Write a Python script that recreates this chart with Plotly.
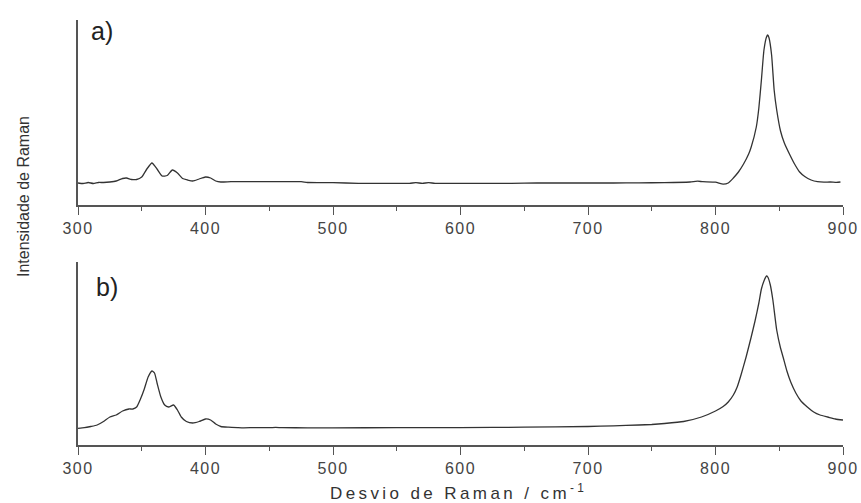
import plotly.graph_objects as go

# ---- data (arbitrary intensity units) ----
shift_a = [300, 304, 308, 312, 316, 320, 325, 330, 335, 338, 342, 346, 350, 354, 358, 362, 366, 370,
           374, 378, 382, 386, 390, 395, 400, 404, 408, 412, 420, 440, 460, 475, 480, 500, 520, 540,
           560, 565, 570, 575, 580, 600, 620, 640, 660, 680, 700, 720, 740, 760, 780, 786, 790, 800,
           806, 810, 814, 818, 822, 826, 828, 832, 834, 836, 838, 840, 841, 842, 844, 846, 848, 851,
           854, 858, 862, 866, 870, 875, 880, 885, 890, 895, 898]
int_a = [22, 21.5, 22.5, 21.5, 22.5, 22.5, 23, 24, 26.5, 27, 25.5, 25.5, 28, 36, 42, 36, 29, 29.5,
         35, 32, 26.5, 25, 24, 26, 28, 27, 24, 23, 23.3, 23.3, 23.3, 23.3, 22.5, 22.3, 21.7, 21.7,
         21.7, 22.3, 21.7, 22.3, 21.7, 21.7, 21.7, 21.7, 22, 22, 22, 22, 22.2, 22.3, 23, 23.8, 23.3, 22.8,
         20.8, 22, 27, 33, 41, 51, 58, 78, 97, 125, 155, 168, 170, 167, 150, 115, 95, 74,
         62, 51, 41, 33, 28.5, 25, 23.3, 22.8, 23, 22.6, 23]

shift_b = [300, 305, 310, 315, 320, 325, 330, 335, 340, 343, 346, 349, 352, 355, 358, 360, 362, 365,
           368, 371, 375, 378, 381, 385, 390, 395, 400, 404, 408, 412, 418, 425, 430, 440, 450, 455,
           460, 480, 500, 550, 600, 650, 700, 720, 740, 750, 760, 775, 789, 800, 806, 810, 814, 817,
           820, 824, 828, 831, 834, 836, 838, 840, 841, 843, 845, 848, 851, 853, 856, 859, 863, 867,
           872, 877, 882, 888, 894, 900]
int_b = [16.7, 17.3, 18.5, 20, 23.5, 28, 30, 34, 36, 36, 38, 46, 56, 68, 74, 72, 62, 48,
         40, 38, 40, 35, 28, 23.5, 22, 23.5, 26, 25, 21, 18.5, 17.8, 17.4, 17.2, 17.4, 17.3, 17.6,
         17.3, 17.2, 17.2, 17.3, 17.3, 17.8, 18.5, 19.2, 20, 20.5, 21.5, 23.5, 28, 34, 38.5, 43, 50, 58,
         70, 88, 108, 124, 142, 156, 164, 169, 168, 160, 145, 115, 97, 88, 74, 63, 52, 44,
         38, 33, 30, 28, 26, 25]

tick_vals = [300, 400, 500, 600, 700, 800, 900]
tick_text = ["300", "400", "500", "600", "700", "800", "900"]

W, H = 861, 503
LINE = "#333333"
AX = "#555555"
FONT = "Liberation Sans, Arial, sans-serif"

fig = go.Figure()
fig.add_trace(go.Scatter(x=shift_a, y=int_a, mode="lines",
                         line=dict(color=LINE, width=1.3, shape="spline", smoothing=0.5),
                         xaxis="x", yaxis="y", showlegend=False))
fig.add_trace(go.Scatter(x=shift_b, y=int_b, mode="lines",
                         line=dict(color=LINE, width=1.3, shape="spline", smoothing=0.5),
                         xaxis="x2", yaxis="y2", showlegend=False))

xdom = [78 / W, 843 / W]
sp = lambda t: f'<span style="letter-spacing:1.5px">{t}</span>'
xcommon = dict(range=[300, 900], domain=xdom, showline=True, linecolor=AX, linewidth=1.5,
               ticks="outside", ticklen=8, tickwidth=1.3, tickcolor=AX, automargin=False,
               tickvals=tick_vals, ticktext=[sp(t) for t in tick_text],
               tickfont=dict(family=FONT, size=16, color="#444444"),
               minor=dict(dtick=50, tick0=350, ticks="outside", ticklen=4.5, tickwidth=1.3, tickcolor=AX),
               showgrid=False, zeroline=False, fixedrange=True)
ycommon = dict(showline=True, linecolor=AX, linewidth=1.5, ticks="", showticklabels=False,
               automargin=False, showgrid=False, zeroline=False, fixedrange=True)

fig.update_layout(
    template="none",
    width=W, height=H, margin=dict(l=0, r=0, t=0, b=0, autoexpand=False),
    paper_bgcolor="white", plot_bgcolor="white",
    xaxis=dict(anchor="y", **xcommon),
    yaxis=dict(anchor="x", domain=[(H - 205) / H, (H - 20) / H], range=[0, 185], **ycommon),
    xaxis2=dict(anchor="y2", **xcommon),
    yaxis2=dict(anchor="x2", domain=[(H - 445) / H, (H - 262) / H], range=[0, 183], **ycommon),
    annotations=[
        dict(text="a)", x=89 / W, y=(H - 31) / H, xref="paper", yref="paper", xanchor="left",
             yanchor="middle", showarrow=False,
             font=dict(family=FONT, size=25, color="#222222")),
        dict(text="b)", x=94 / W, y=(H - 287) / H, xref="paper", yref="paper", xanchor="left",
             yanchor="middle", showarrow=False,
             font=dict(family=FONT, size=25, color="#222222")),
        dict(text="Intensidade de Raman", textangle=-90, x=23 / W, y=(H - 197) / H,
             xref="paper", yref="paper", xanchor="center", yanchor="middle", showarrow=False,
             font=dict(family=FONT, size=16, color="#333333")),
        dict(text='<span style="letter-spacing:3.4px">Desvio de Raman / cm<sup>-1</sup></span>',
             x=459 / W, y=(H - 492) / H, xref="paper", yref="paper", xanchor="center",
             yanchor="middle", showarrow=False,
             font=dict(family=FONT, size=17, color="#333333")),
    ],
)

fig.write_html("out.html")
